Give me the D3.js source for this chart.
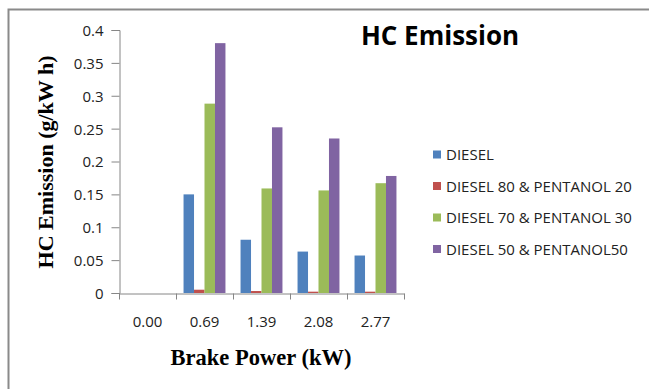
<!DOCTYPE html>
<html>
<head>
<meta charset="utf-8">
<script src="https://cdn.jsdelivr.net/npm/d3@7"></script>
<style>
  html, body { margin: 0; padding: 0; background: #fff; }
  svg { display: block; }
</style>
</head>
<body>
<svg id="chart" width="649" height="389"></svg>
<script>
// Brake power categories (kW)
const categories = ["0.00", "0.69", "1.39", "2.08", "2.77"];
// Series names and HC emission values (g/kW h)
const seriesNames = ["DIESEL", "DIESEL 80 & PENTANOL 20", "DIESEL 70 & PENTANOL 30", "DIESEL 50 & PENTANOL50"];
const diesel   = [0, 0.150, 0.081, 0.063, 0.057];
const d80p20   = [0, 0.005, 0.003, 0.002, 0.002];
const d70p30   = [0, 0.288, 0.159, 0.156, 0.167];
const d50p50   = [0, 0.380, 0.252, 0.235, 0.178];
const yTicks   = [0, 0.05, 0.1, 0.15, 0.2, 0.25, 0.3, 0.35, 0.4];
const colors   = ["#4F81BD", "#C0504D", "#9BBB59", "#8064A2"];

const seriesValues = [diesel, d80p20, d70p30, d50p50];

const svg = d3.select("#chart");

// outer chart border
svg.append("rect")
  .attr("x", 8.5).attr("y", 9.5)
  .attr("width", 660).attr("height", 400)
  .attr("fill", "#fff")
  .attr("stroke", "#8a8a8a").attr("stroke-width", 2);

const plot = { left: 119, right: 404, top: 30, bottom: 293 };

const x = d3.scaleBand()
  .domain(categories)
  .range([plot.left, plot.right])
  .paddingInner(0).paddingOuter(0);

const xInner = d3.scaleBand()
  .domain(d3.range(seriesNames.length))
  .range([0, x.bandwidth()])
  .paddingInner(0)
  .paddingOuter(0.72);

const y = d3.scaleLinear().domain([0, 0.4]).range([plot.bottom, plot.top]);

// bars
const g = svg.append("g");
categories.forEach((c, ci) => {
  seriesValues.forEach((vals, si) => {
    const v = vals[ci];
    if (v <= 0) return;
    g.append("rect")
      .attr("x", x(c) + xInner(si))
      .attr("y", y(v))
      .attr("width", xInner.bandwidth())
      .attr("height", y(0) - y(v))
      .attr("fill", colors[si]);
  });
});

const tickFont = "'Open Sans', 'Liberation Sans', sans-serif";

// y axis
const yAxis = d3.axisLeft(y)
  .tickValues(yTicks)
  .tickSize(8)
  .tickFormat(d => d3.format("")(+d.toFixed(2)));
const yg = svg.append("g")
  .attr("transform", `translate(${plot.left + 0.5},0)`)
  .call(yAxis);
yg.select(".domain").attr("stroke", "#868686");
yg.selectAll(".tick line").attr("stroke", "#868686");
yg.selectAll(".tick text")
  .attr("x", -16)
  .attr("dy", "0.36em")
  .attr("font-family", tickFont)
  .attr("font-size", 15)
  .attr("fill", "#222");

// x axis with ticks at category boundaries
const xAxis = d3.axisBottom(x).tickSize(0);
const xg = svg.append("g")
  .attr("transform", `translate(0,${plot.bottom + 0.5})`)
  .call(xAxis);
xg.select(".domain").attr("stroke", "#868686");
xg.selectAll(".tick text")
  .attr("y", 33.5)
  .attr("dy", 0)
  .attr("font-family", tickFont)
  .attr("font-size", 15)
  .attr("fill", "#222");
const bounds = categories.map(c => x(c)).concat([plot.right]);
xg.selectAll(".bound")
  .data(bounds)
  .enter().append("line")
  .attr("x1", d => Math.round(d) + 0.5).attr("x2", d => Math.round(d) + 0.5)
  .attr("y1", 0).attr("y2", 6)
  .attr("stroke", "#868686");

// titles
svg.append("text")
  .attr("x", 440).attr("y", 45)
  .attr("text-anchor", "middle")
  .attr("font-family", "'Open Sans', 'Liberation Sans', sans-serif")
  .attr("font-weight", "bold")
  .attr("font-size", 26)
  .attr("fill", "#000")
  .text("HC Emission");

svg.append("text")
  .attr("transform", "translate(53,162) rotate(-90)")
  .attr("text-anchor", "middle")
  .attr("font-family", "'Liberation Serif', 'Times New Roman', serif")
  .attr("font-weight", "bold")
  .attr("font-size", 22)
  .attr("fill", "#000")
  .text("HC Emission (g/kW h)");

svg.append("text")
  .attr("x", 261).attr("y", 365)
  .attr("text-anchor", "middle")
  .attr("font-family", "'Liberation Serif', 'Times New Roman', serif")
  .attr("font-weight", "bold")
  .attr("font-size", 22.5)
  .attr("fill", "#000")
  .text("Brake Power (kW)");

// legend
const legend = svg.append("g").attr("transform", "translate(433,154.5)");
seriesNames.forEach((name, i) => {
  const row = legend.append("g").attr("transform", `translate(0,${i * 31.5})`);
  row.append("rect")
    .attr("x", 0).attr("y", -4)
    .attr("width", 8).attr("height", 8)
    .attr("fill", colors[i]);
  row.append("text")
    .attr("x", 13).attr("y", 5.5)
    .attr("font-family", tickFont)
    .attr("font-size", 15)
    .attr("fill", "#222")
    .text(name);
});
</script>
</body>
</html>
